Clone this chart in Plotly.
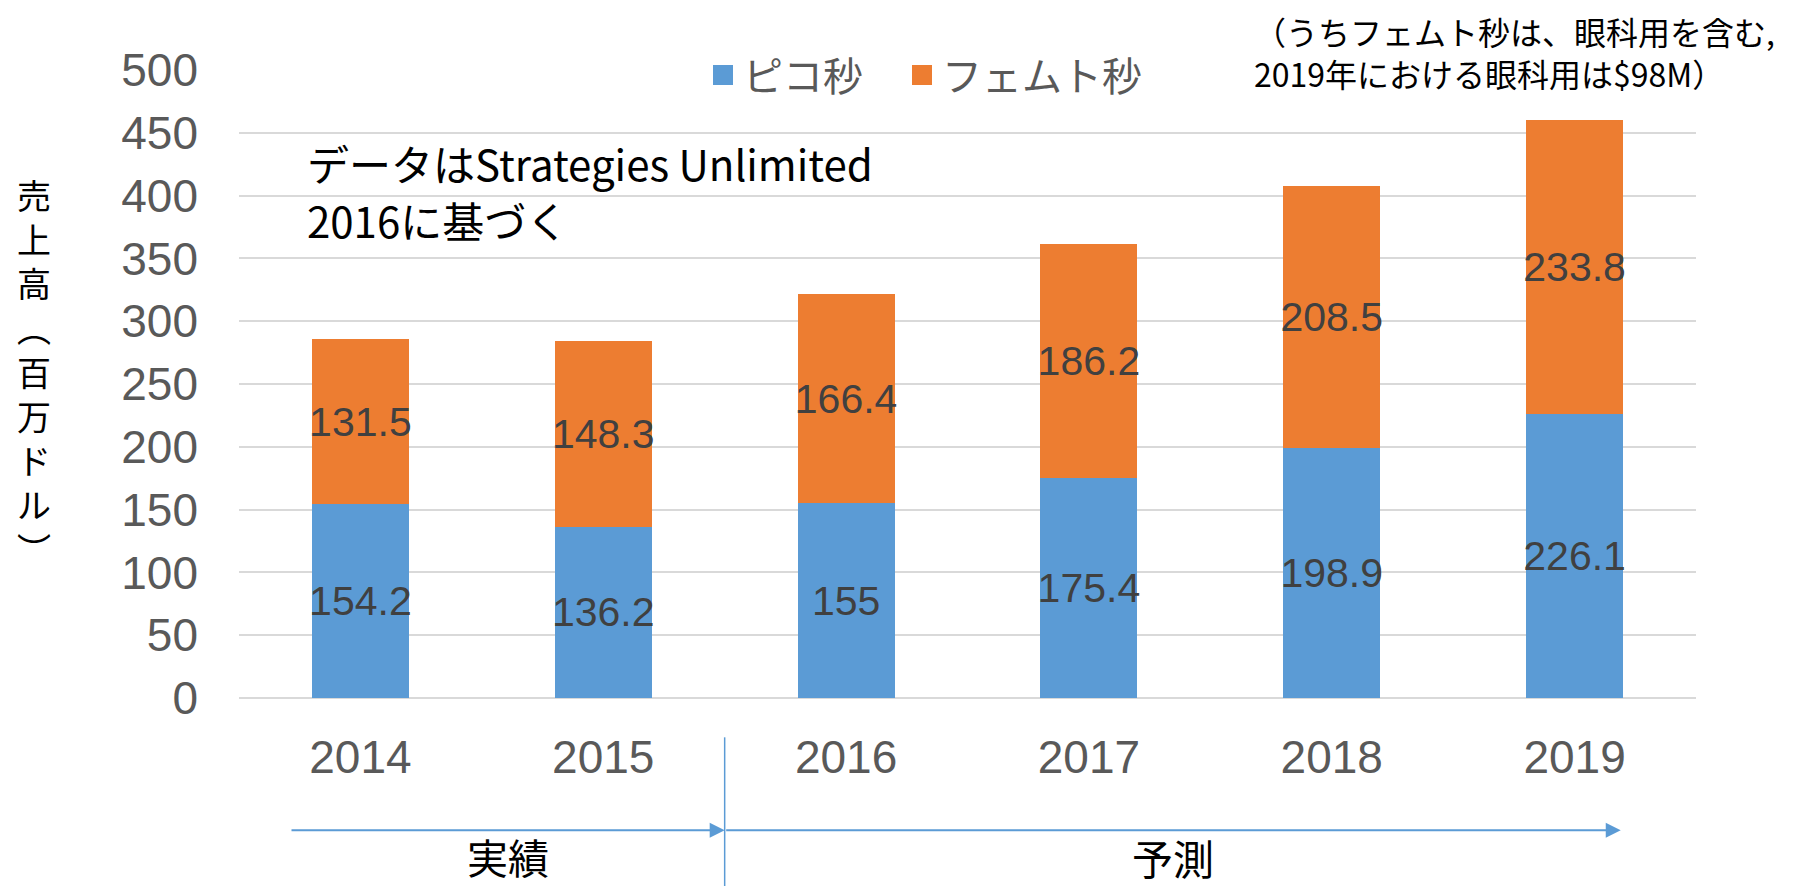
import plotly.graph_objects as go

years = ["2014", "2015", "2016", "2017", "2018", "2019"]
pico = [154.2, 136.2, 155, 175.4, 198.9, 226.1]
femto = [131.5, 148.3, 166.4, 186.2, 208.5, 233.8]
series_names = ["ピコ秒", "フェムト秒"]
colors = ["#5B9BD5", "#ED7D31"]
y_ticks = [0, 50, 100, 150, 200, 250, 300, 350, 400, 450, 500]
y_title = "売上高︵百万ドル︶"
source_lines = ["データはStrategies Unlimited", "2016に基づく"]

CJK = "Noto Sans CJK JP"
ARIAL = "Arial, Liberation Sans, sans-serif"

# page body offset compensation
OFF = 8
W, H = 1799 - OFF, 886 - OFF
PL, PR, PT, PB = 239, 1696, 70, 697.7  # plot area in reference pixels
PW, PH = PR - PL, PB - PT


def px(x):
    return (x - PL) / PW


def py(y):
    return (PB - y) / PH


fig = go.Figure()
for name, vals, col in zip(series_names, [pico, femto], colors):
    fig.add_trace(go.Bar(
        x=years, y=vals, name=name, marker=dict(color=col, line=dict(width=0)),
        text=[f"{v:g}" for v in vals], textposition="inside", insidetextanchor="middle",
        textangle=0, constraintext="none",
        textfont=dict(family=ARIAL, size=41, color="#404040"),
        showlegend=False, hoverinfo="skip",
    ))
# legend entries (one legend per series so each can be placed)
legend_ids = ["legend", "legend2"]
for name, col, lid in zip(series_names, colors, legend_ids):
    fig.add_trace(go.Scatter(
        x=[None], y=[None], mode="markers", name=name, legend=lid,
        marker=dict(symbol="square", size=16, color=col, line=dict(color=col, width=4)),
        showlegend=True,
    ))

leg_common = dict(orientation="h", xanchor="left", yanchor="middle", y=py(75),
                  font=dict(family=CJK, size=40, color="#595959"),
                  bgcolor="rgba(0,0,0,0)", itemsizing="trace")

fig.update_layout(
    width=W, height=H,
    margin=dict(l=PL - OFF, r=W - (PR - OFF), t=PT - OFF, b=H - (PB - OFF)),
    paper_bgcolor="white", plot_bgcolor="white",
    barmode="stack", bargap=0.6,
    legend=dict(x=px(703), **leg_common),
    legend2=dict(x=px(902), **leg_common),
    xaxis=dict(type="category", showgrid=False, showline=False, zeroline=False,
               tickfont=dict(family=ARIAL, size=46, color="#595959"),
               ticks="", ticklabelstandoff=28),
    yaxis=dict(range=[0, 500], tickvals=y_ticks, showgrid=True, gridcolor="#D9D9D9", gridwidth=1.5,
               zeroline=True, zerolinecolor="#D9D9D9", zerolinewidth=1.5, showline=False,
               tickfont=dict(family=ARIAL, size=46, color="#595959"),
               ticks="", ticklabelstandoff=40),
)

annotations = [
    dict(text="（うちフェムト秒は、眼科用を含む,<br>2019年における眼科用は$98M）", xref="paper", yref="paper",
         x=px(1252), y=py(6), xanchor="left", yanchor="top",
         align="left", showarrow=False, font=dict(family=CJK, size=32, color="black")),
    dict(text="<br>".join(list(y_title)), xref="paper", yref="paper",
         x=px(34), y=py(371.5), xanchor="center", yanchor="middle",
         showarrow=False, font=dict(family=CJK, size=34, color="black")),
    dict(text="実績", xref="paper", yref="paper",
         x=px(508), y=py(856), xanchor="center", yanchor="middle",
         showarrow=False, font=dict(family=CJK, size=41, color="black")),
    dict(text="予測", xref="paper", yref="paper",
         x=px(1173), y=py(857), xanchor="center", yanchor="middle",
         showarrow=False, font=dict(family=CJK, size=41, color="black")),
]
for line, yc in zip(source_lines, [162, 219]):
    annotations.append(dict(
        text=line, xref="paper", yref="paper", x=px(305), y=py(yc),
        xanchor="left", yanchor="middle", align="left", showarrow=False,
        font=dict(family=CJK, size=42, color="black")))

arrow_y = py(830)
for x0, x1 in [(-0.29, 1.5), (1.5, 5.19)]:
    annotations.append(dict(
        text="", xref="x", yref="paper", x=x1, y=arrow_y, axref="x", ax=x0, ayref="pixel", ay=0,
        showarrow=True, arrowhead=2, arrowsize=1.5, arrowwidth=2, arrowcolor="#5B9BD5",
    ))
fig.update_layout(annotations=annotations)

fig.add_shape(type="line", xref="x", yref="paper", x0=1.5, x1=1.5,
              y0=py(737), y1=py(886),
              line=dict(color="#5B9BD5", width=1.5))

fig.write_html("out.html")
